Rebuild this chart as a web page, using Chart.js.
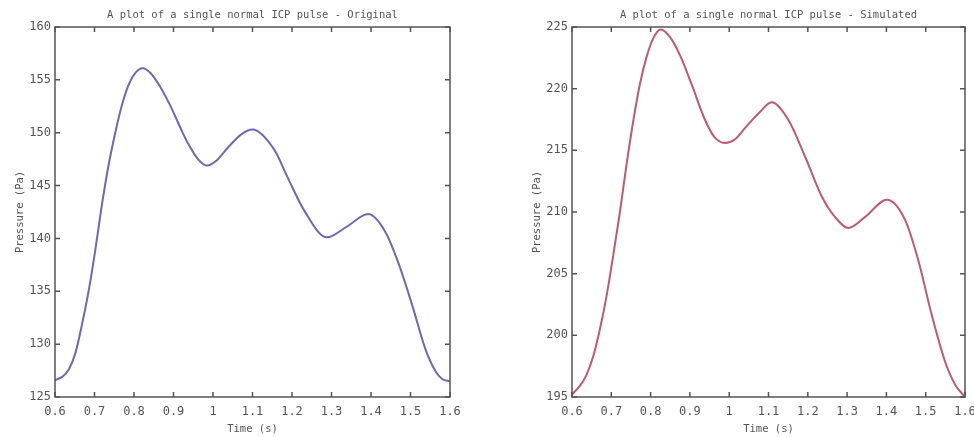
<!DOCTYPE html>
<html>
<head>
<meta charset="utf-8">
<script src="https://cdn.jsdelivr.net/npm/chart.js@4/dist/chart.umd.min.js"></script>
<style>
  html,body{margin:0;padding:0;background:#fff;overflow:hidden;width:974px;height:437px;}
  #c1{position:absolute;left:0;top:0;}
  #c2{position:absolute;left:487px;top:0;}
</style>
</head>
<body>
<canvas id="c1" width="487" height="437"></canvas>
<canvas id="c2" width="500" height="437"></canvas>
<script>
'use strict';
// original pulse
var timeOriginal=[0.6,0.618,0.635,0.652,0.668,0.685,0.702,0.718,0.735,0.752,0.768,0.785,0.802,0.822,0.843,0.867,0.89,0.905,0.922,0.938,0.962,0.984,1.01,1.038,1.07,1.1,1.155,1.188,1.23,1.288,1.338,1.393,1.438,1.472,1.505,1.538,1.563,1.58,1.6];
var pressureOriginal=[126.6,126.9,127.6,129.2,131.8,135.0,138.9,143.0,146.8,149.9,152.4,154.4,155.6,156.1,155.6,154.3,152.7,151.5,150.1,148.9,147.5,146.9,147.4,148.6,149.8,150.3,148.4,145.85,142.7,140.1,141.1,142.3,140.5,137.4,133.6,129.5,127.45,126.7,126.5];
// simulated pulse, right panel
var timeSimulated=[0.6,0.62,0.637,0.654,0.671,0.688,0.705,0.722,0.739,0.756,0.773,0.79,0.807,0.826,0.849,0.875,0.905,0.938,0.962,0.989,1.015,1.04,1.075,1.108,1.15,1.193,1.235,1.269,1.303,1.346,1.401,1.447,1.481,1.515,1.549,1.575,1.6];
var pressureSimulated=[195.2,195.9,196.8,198.3,200.5,203.2,206.5,210.0,213.9,217.4,220.4,222.6,224.1,224.8,224.2,222.7,220.3,217.5,216.1,215.6,215.9,216.8,218.0,218.9,217.5,214.5,211.3,209.6,208.7,209.6,211.0,209.4,206.1,201.7,197.9,196.0,195.0];
var origRange=[125,160];
var simRange=[195,225];

var monoFont='"DejaVu Sans Mono", "Liberation Mono", monospace';
var axisColor='#555';
var textColor='#555';

// box around the plot with inward ticks on every side, title centred on the plot
var framePlugin={
  id:'frame',
  afterDraw:function(chart){
    var a=chart.chartArea, ctx=chart.ctx, xs=chart.scales.x, ys=chart.scales.y, len=5;
    ctx.save();
    ctx.strokeStyle=axisColor;
    ctx.lineWidth=1.5;
    ctx.strokeRect(a.left,a.top,a.right-a.left,a.bottom-a.top);
    ctx.beginPath();
    xs.ticks.forEach(function(t,i){
      var px=xs.getPixelForTick(i);
      ctx.moveTo(px,a.bottom);ctx.lineTo(px,a.bottom-len);
      ctx.moveTo(px,a.top);ctx.lineTo(px,a.top+len);
    });
    ys.ticks.forEach(function(t,i){
      var py=ys.getPixelForTick(i);
      ctx.moveTo(a.left,py);ctx.lineTo(a.left+len,py);
      ctx.moveTo(a.right,py);ctx.lineTo(a.right-len,py);
    });
    ctx.stroke();
    ctx.fillStyle=textColor;
    ctx.font='10.5px '+monoFont;
    ctx.textAlign='center';
    ctx.textBaseline='middle';
    ctx.fillText(chart.options.plotTitle,(a.left+a.right)/2,15);
    ctx.restore();
  }
};

function makeChart(id,title,times,values,range,color,yWidth,yTitlePad,padRight){
  var pts=times.map(function(t,i){return {x:t,y:values[i]};});
  return new Chart(document.getElementById(id),{
    type:'line',
    data:{datasets:[{data:pts,borderColor:color,borderWidth:2,pointRadius:0,fill:false,cubicInterpolationMode:'monotone'}]},
    options:{
      responsive:false,animation:false,
      plotTitle:title,
      layout:{padding:{left:0,right:padRight,top:27,bottom:0}},
      plugins:{legend:{display:false},tooltip:{enabled:false},title:{display:false}},
      scales:{
        x:{type:'linear',min:0.6,max:1.6,
          ticks:{stepSize:0.1,color:textColor,font:{family:monoFont,size:12},padding:8,maxRotation:0,autoSkip:false,
            callback:function(v){return String(Math.round(v*10)/10);}},
          grid:{display:false,drawTicks:false},border:{display:false},
          title:{display:true,text:'Time (s)',color:textColor,font:{family:monoFont,size:10.5},padding:{top:0,bottom:1}},
          afterFit:function(s){s.height=40;}
        },
        y:{min:range[0],max:range[1],
          ticks:{stepSize:5,color:textColor,font:{family:monoFont,size:12},padding:4},
          grid:{display:false,drawTicks:false},border:{display:false},
          title:{display:true,text:'Pressure (Pa)',color:textColor,font:{family:monoFont,size:10.5},padding:{top:yTitlePad,bottom:0}},
          afterFit:function(s){s.width=yWidth;}
        }
      }
    },
    plugins:[framePlugin]
  });
}

makeChart('c1','A plot of a single normal ICP pulse - Original',timeOriginal,pressureOriginal,origRange,'#6a6ab8',55,14,37);
makeChart('c2','A plot of a single normal ICP pulse - Simulated',timeSimulated,pressureSimulated,simRange,'#c05a6e',85,44,22);
</script>
</body>
</html>
